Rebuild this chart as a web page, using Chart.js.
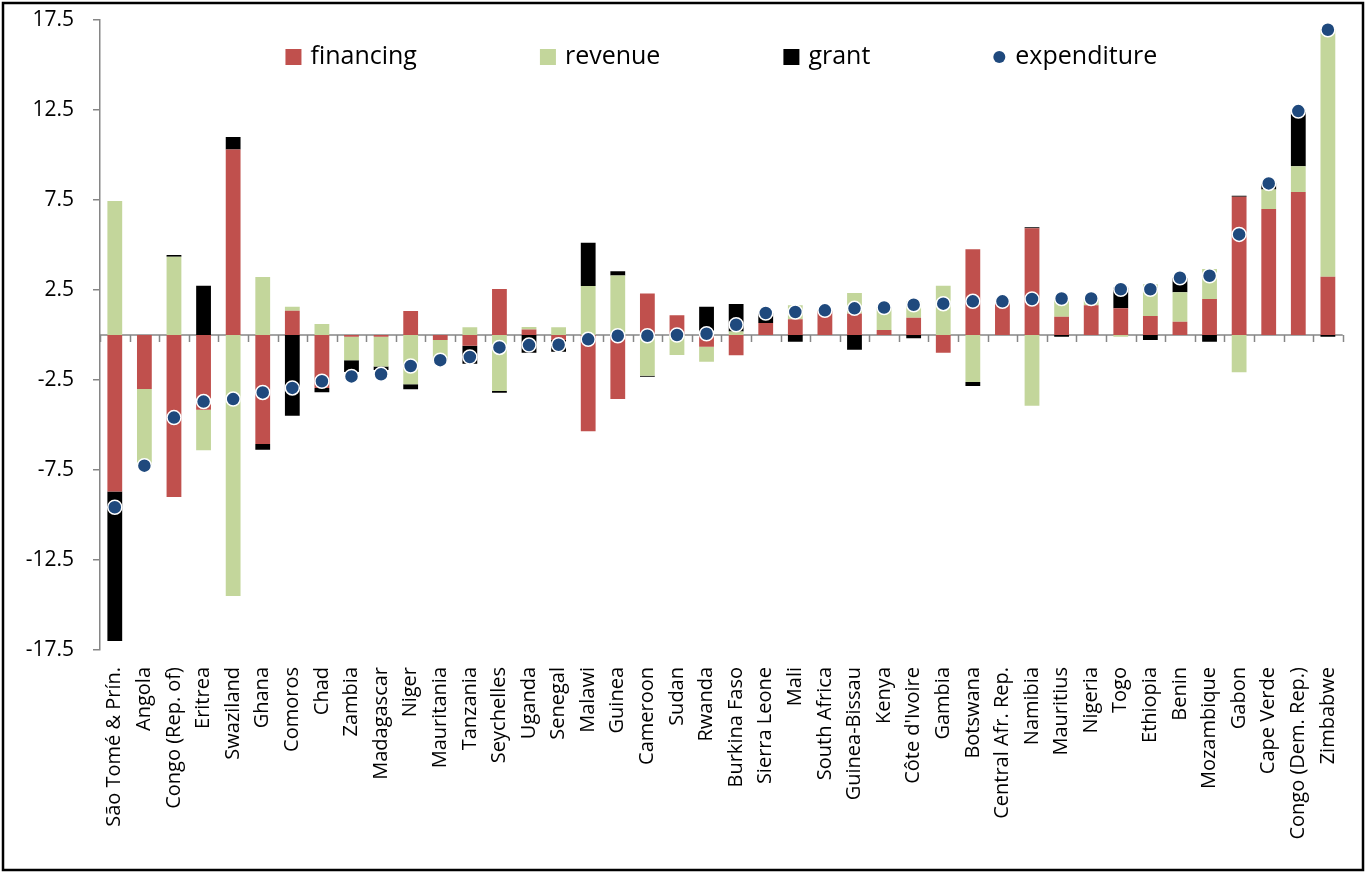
<!DOCTYPE html>
<html>
<head>
<meta charset="utf-8">
<script src="https://cdn.jsdelivr.net/npm/chart.js@4"></script>
<style>
  body { margin: 0; background: #fff; }
</style>
</head>
<body>
<canvas id="myChart" width="1369" height="873"></canvas>
<script>
const countries = [
    'São Tomé & Prín.', 'Angola', 'Congo (Rep. of)', 'Eritrea', 'Swaziland', 'Ghana',
    'Comoros', 'Chad', 'Zambia', 'Madagascar', 'Niger', 'Mauritania', 'Tanzania',
    'Seychelles', 'Uganda', 'Senegal', 'Malawi', 'Guinea', 'Cameroon', 'Sudan',
    'Rwanda', 'Burkina Faso', 'Sierra Leone', 'Mali', 'South Africa', 'Guinea-Bissau',
    'Kenya', "Côte d'Ivoire", 'Gambia', 'Botswana', 'Central Afr. Rep.', 'Namibia',
    'Mauritius', 'Nigeria', 'Togo', 'Ethiopia', 'Benin', 'Mozambique', 'Gabon',
    'Cape Verde', 'Congo (Dem. Rep.)', 'Zimbabwe'
];

const financing = [
    -8.7, -3.0, -9.0, -4.15, 10.3, -6.05, 1.35, -2.95, -0.1, -0.1, 1.33, -0.28, -0.6,
    2.55, 0.3, -0.28, -5.35, -3.55, 2.3, 1.1, -0.65, -1.13, 0.67, 0.87, 1.35, 1.2,
    0.28, 0.96, -0.98, 4.76, 1.87, 5.93, 1.02, 1.65, 1.48, 1.06, 0.74, 2.0, 7.68,
    7.0, 7.94, 3.24
];

const revenue = [
    7.44, -4.15, 4.35, -2.25, -14.5, 3.22, 0.22, 0.61, -1.3, -1.65, -2.74, -1.15, 0.43,
    -3.11, 0.15, 0.43, 2.72, 3.3, -2.26, -1.11, -0.83, 0.2, 0, 0.78, 0, 1.13,
    1.25, 0.9, 2.74, -2.61, 0, -3.93, 1.1, 0.35, -0.1, 1.76, 1.63, 1.67, -2.07,
    1.09, 1.43, 13.75
];

const grant = [
    -8.3, -0.1, 0.1, 2.74, 0.7, -0.33, -4.48, -0.23, -0.65, -0.2, -0.28, 0, -1.0,
    -0.1, -0.98, -0.65, 2.41, 0.24, -0.06, 0, 1.57, 1.52, 0.55, -0.37, 0, -0.82,
    0, -0.18, 0, -0.22, 0, 0.05, -0.1, 0, 1.15, -0.28, 0.8, -0.37, 0.05,
    0.35, 3.05, -0.1
];

const expenditure = [
    -9.57, -7.26, -4.59, -3.7, -3.56, -3.19, -2.94, -2.57, -2.3, -2.18, -1.72, -1.4, -1.22,
    -0.69, -0.56, -0.54, -0.24, -0.04, -0.04, 0.0, 0.07, 0.57, 1.22, 1.28, 1.37, 1.48,
    1.53, 1.68, 1.74, 1.87, 1.87, 2.0, 2.03, 2.03, 2.54, 2.54, 3.18, 3.29, 5.59,
    8.42, 12.44, 16.96
];

const yTicks = [17.5, 12.5, 7.5, 2.5, -2.5, -7.5, -12.5, -17.5];

const FONT = '"Open Sans", "DejaVu Sans", sans-serif';
const AXIS_GREY = '#868686';

// zero line with category ticks, legend inside the plot, outer frame
const extras = {
    id: 'extras',
    beforeDatasetsDraw(chart) {
        const ctx = chart.ctx;
        const area = chart.chartArea;
        const x = chart.scales.x;
        const y0 = chart.scales.y.getPixelForValue(0);
        const step = (area.right - area.left) / countries.length;
        ctx.save();
        ctx.strokeStyle = AXIS_GREY;
        ctx.lineWidth = 1.5;
        ctx.beginPath();
        ctx.moveTo(area.left, y0);
        ctx.lineTo(area.right, y0);
        for (let i = 0; i <= countries.length; i++) {
            const px = Math.round(x.getPixelForValue(i) - step / 2) + 0.5;
            ctx.moveTo(px, y0);
            ctx.lineTo(px, y0 + 7);
        }
        ctx.stroke();
        ctx.restore();
    },
    afterDraw(chart) {
        const ctx = chart.ctx;
        const area = chart.chartArea;
        ctx.save();
        ctx.font = '25px ' + FONT;
        ctx.textBaseline = 'middle';
        const gap = 123;
        const items = chart.data.datasets.map(ds => ({
            text: ds.label,
            color: ds.backgroundColor,
            dot: ds.type === 'line'
        }));
        const offsets = items.map(it => it.dot ? 22 : 25);
        const widths = items.map((it, i) => offsets[i] + ctx.measureText(it.text).width);
        const total = widths.reduce((a, b) => a + b, 0) + gap * (items.length - 1);
        let cx = (area.left + area.right) / 2 - total / 2;
        const cy = 57;
        items.forEach((it, i) => {
            ctx.fillStyle = it.color;
            if (it.dot) {
                ctx.beginPath();
                ctx.arc(cx + 6, cy, 6, 0, Math.PI * 2);
                ctx.fill();
            } else {
                ctx.fillRect(cx, cy - 8, 16, 16);
            }
            ctx.fillStyle = '#000';
            ctx.fillText(it.text, cx + offsets[i], cy);
            cx += widths[i] + gap;
        });
        ctx.strokeStyle = '#000';
        ctx.lineWidth = 2.5;
        ctx.strokeRect(3, 3, 1360, 867);
        ctx.restore();
    }
};

const data = {
    labels: countries,
    datasets: [
        {
            label: 'financing',
            data: financing,
            backgroundColor: '#C0504D',
            order: 1
        },
        {
            label: 'revenue',
            data: revenue,
            backgroundColor: '#C3D69B',
            order: 1
        },
        {
            label: 'grant',
            data: grant,
            backgroundColor: '#000000',
            order: 1
        },
        {
            type: 'line',
            label: 'expenditure',
            data: expenditure,
            stack: 'exp',
            showLine: false,
            backgroundColor: '#1F497D',
            borderColor: '#ffffff',
            pointRadius: 7,
            pointBorderWidth: 1.5,
            order: 0
        }
    ]
};

const config = {
    type: 'bar',
    data: data,
    plugins: [extras],
    options: {
        responsive: false,
        animation: false,
        layout: { padding: { left: 0, right: 9, top: 20, bottom: 0 } },
        datasets: {
            bar: { categoryPercentage: 1, barPercentage: 0.5, borderWidth: 0 }
        },
        plugins: {
            legend: { display: false },
            tooltip: { enabled: false }
        },
        scales: {
            x: {
                stacked: true,
                grid: { display: false, drawTicks: false },
                border: { display: false },
                afterFit: s => { s.height = 223; },
                ticks: {
                    autoSkip: false,
                    maxRotation: 90,
                    minRotation: 90,
                    padding: 17,
                    color: '#000',
                    font: { family: FONT, size: 20 }
                }
            },
            y: {
                stacked: true,
                min: -17.5,
                max: 17.5,
                afterBuildTicks: s => { s.ticks = yTicks.map(v => ({ value: v })); },
                afterFit: s => {
                    s.width = 100;
                    s.paddingTop = 0;
                    s.paddingBottom = 0;
                },
                grid: {
                    drawOnChartArea: false,
                    drawTicks: true,
                    tickLength: 7,
                    color: AXIS_GREY,
                    lineWidth: 1.5
                },
                border: { color: AXIS_GREY, width: 1.5 },
                ticks: {
                    padding: 19,
                    color: '#000',
                    font: { family: FONT, size: 21 },
                    callback: v => v.toFixed(1)
                }
            }
        }
    }
};

new Chart(document.getElementById('myChart'), config);
</script>
</body>
</html>
